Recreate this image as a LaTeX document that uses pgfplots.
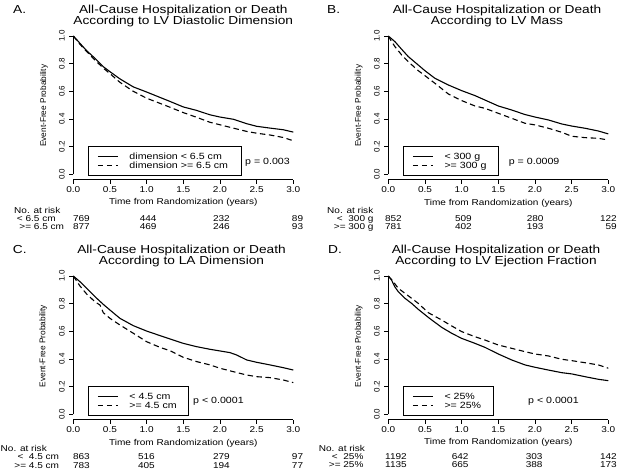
\documentclass[border=0pt]{standalone}
\usepackage{fontspec}
\setmainfont[FakeStretch=1.18]{Liberation Sans}
\newfontfamily\rotfont{Liberation Sans}
\usepackage{pgfplots}
\pgfplotsset{compat=1.18}
\newcommand\ftitle{\fontsize{11.6bp}{12bp}\selectfont}
\newcommand\fsmall{\fontsize{8.5bp}{10bp}\selectfont}
\newcommand\fleg{\fontsize{9bp}{10bp}\selectfont}
\newcommand\fylab{\rotfont\fontsize{8.3bp}{10bp}\selectfont}

\pgfplotsset{kmaxis/.style={
  scale only axis, width=220bp, height=149.3bp,
  xmin=0, xmax=3, ymin=-0.04, ymax=1.04,
  axis x line*=bottom, axis y line*=left,
  axis line style={draw=none},
  tick align=outside, major tick length=4bp,
  tick style={black, line width=0.6bp},
  xtick={0,0.5,1,1.5,2,2.5,3}, xticklabels={0.0,0.5,1.0,1.5,2.0,2.5,3.0},
  ytick={0,0.2,0.4,0.6,0.8,1}, yticklabels={0.0,0.2,0.4,0.6,0.8,1.0},
  xticklabel style={font=\fsmall, inner sep=0pt, anchor=north},
  xticklabel shift=3bp,
  yticklabel style={font=\rotfont\fontsize{8bp}{10bp}\selectfont, rotate=90, anchor=south, inner sep=0pt},
  yticklabel shift=4.5bp,
  clip=false,
  legend style={at={(0.0668,0.2264)}, anchor=north west, draw=black, line width=0.8bp,
    font=\fleg, inner xsep=9bp, inner ysep=7bp, row sep=2.5bp, column sep=11bp,
    nodes={inner sep=0pt, text height=6.5bp, text depth=0pt}},
  legend cell align=left,
  legend image code/.code={\draw[##1] (0bp,0bp) -- (20bp,0bp);},
},
solidkm/.style={black, line width=1.1bp},
dashkm/.style={black, line width=1.1bp, dash pattern=on 5.5bp off 3.5bp},
}

\begin{document}
\begin{tikzpicture}
% ---------------- Panel A ----------------
\begin{axis}[kmaxis, at={(73.3bp,296.2bp)}, anchor=south west]
\addplot[solidkm] coordinates {(0,1.0) (0.045,0.975) (0.091,0.947) (0.182,0.894) (0.295,0.839) (0.409,0.778) (0.5,0.742) (0.636,0.690) (0.818,0.632) (1.0,0.595) (1.182,0.556) (1.318,0.527) (1.5,0.487) (1.682,0.462) (1.864,0.430) (2.0,0.414) (2.182,0.398) (2.364,0.366) (2.5,0.347) (2.682,0.334) (2.864,0.322) (3.0,0.305)};
\addlegendentry{dimension < 6.5 cm\hspace*{4bp}}
\addplot[dashkm] coordinates {(0,1.0) (0.045,0.970) (0.091,0.940) (0.182,0.888) (0.295,0.826) (0.409,0.768) (0.5,0.728) (0.636,0.665) (0.818,0.600) (1.0,0.550) (1.182,0.513) (1.318,0.485) (1.5,0.446) (1.682,0.412) (1.864,0.376) (2.0,0.358) (2.182,0.334) (2.364,0.310) (2.5,0.297) (2.682,0.284) (2.864,0.266) (3.0,0.242)};
\addlegendentry{dimension >= 6.5 cm\hspace*{4bp}}
\draw[line width=0.6bp] (axis cs:0,-0.04) -- (axis cs:3,-0.04);
\draw[line width=0.6bp] (axis cs:0,0) -- (axis cs:0,1);
\end{axis}
% ---------------- Panel B ----------------
\begin{axis}[kmaxis, at={(388.3bp,296.2bp)}, anchor=south west]
\addplot[solidkm] coordinates {(0,1.0) (0.045,0.980) (0.091,0.959) (0.182,0.904) (0.273,0.851) (0.409,0.790) (0.5,0.749) (0.636,0.694) (0.818,0.646) (1.0,0.605) (1.182,0.569) (1.318,0.537) (1.5,0.494) (1.682,0.465) (1.864,0.432) (2.0,0.414) (2.182,0.393) (2.364,0.364) (2.5,0.349) (2.682,0.333) (2.864,0.313) (3.0,0.292)};
\addlegendentry{< 300 g\hspace*{3bp}}
\addplot[dashkm] coordinates {(0,1.0) (0.045,0.960) (0.091,0.923) (0.182,0.863) (0.273,0.814) (0.409,0.749) (0.5,0.713) (0.636,0.658) (0.818,0.581) (1.0,0.533) (1.182,0.494) (1.318,0.477) (1.5,0.441) (1.682,0.405) (1.864,0.369) (2.0,0.357) (2.182,0.333) (2.364,0.304) (2.5,0.275) (2.682,0.265) (2.864,0.260) (3.0,0.248)};
\addlegendentry{>= 300 g\hspace*{3bp}}
\draw[line width=0.6bp] (axis cs:0,-0.04) -- (axis cs:3,-0.04);
\draw[line width=0.6bp] (axis cs:0,0) -- (axis cs:0,1);
\end{axis}
% ---------------- Panel C ----------------
\begin{axis}[kmaxis, at={(73.3bp,56.2bp)}, anchor=south west]
\addplot[solidkm] coordinates {(0,1.0) (0.091,0.959) (0.182,0.911) (0.295,0.851) (0.409,0.795) (0.5,0.754) (0.636,0.694) (0.818,0.641) (1.0,0.602) (1.182,0.569) (1.318,0.545) (1.5,0.513) (1.682,0.489) (1.864,0.470) (2.0,0.458) (2.136,0.446) (2.227,0.429) (2.364,0.393) (2.5,0.376) (2.682,0.357) (2.864,0.337) (3.0,0.320)};
\addlegendentry{< 4.5 cm\hspace*{3bp}}
\addplot[dashkm] coordinates {(0,1.0) (0.091,0.928) (0.182,0.870) (0.295,0.814) (0.364,0.790) (0.409,0.735) (0.5,0.694) (0.636,0.646) (0.818,0.586) (1.0,0.525) (1.182,0.484) (1.318,0.460) (1.5,0.412) (1.682,0.381) (1.864,0.357) (2.0,0.333) (2.182,0.308) (2.364,0.284) (2.5,0.272) (2.682,0.265) (2.864,0.248) (3.0,0.229)};
\addlegendentry{>= 4.5 cm\hspace*{3bp}}
\draw[line width=0.6bp] (axis cs:0,-0.04) -- (axis cs:3,-0.04);
\draw[line width=0.6bp] (axis cs:0,0) -- (axis cs:0,1);
\end{axis}
% ---------------- Panel D ----------------
\begin{axis}[kmaxis, at={(388.3bp,56.2bp)}, anchor=south west]
\addplot[solidkm] coordinates {(0,1.0) (0.045,0.970) (0.091,0.920) (0.136,0.887) (0.227,0.839) (0.318,0.802) (0.409,0.759) (0.545,0.701) (0.727,0.629) (0.864,0.586) (1.0,0.549) (1.182,0.513) (1.318,0.484) (1.5,0.436) (1.682,0.393) (1.864,0.357) (2.0,0.340) (2.182,0.320) (2.364,0.301) (2.5,0.292) (2.682,0.272) (2.864,0.253) (3.0,0.243)};
\addlegendentry{< 25\%\hspace*{3bp}}
\addplot[dashkm] coordinates {(0,1.0) (0.045,0.975) (0.136,0.911) (0.227,0.875) (0.318,0.839) (0.409,0.802) (0.545,0.735) (0.727,0.682) (0.864,0.639) (1.0,0.598) (1.182,0.561) (1.318,0.537) (1.5,0.501) (1.682,0.477) (1.864,0.453) (2.0,0.436) (2.182,0.422) (2.364,0.398) (2.5,0.388) (2.682,0.373) (2.864,0.357) (3.0,0.333)};
\addlegendentry{>= 25\%\hspace*{3bp}}
\draw[line width=0.6bp] (axis cs:0,-0.04) -- (axis cs:3,-0.04);
\draw[line width=0.6bp] (axis cs:0,0) -- (axis cs:0,1);
\end{axis}

% ---------------- Texts (pixel coordinates, y downward) ----------------
\begin{scope}[x=1bp, y=-1bp, shift={(0,476bp)}]
% titles
\node[anchor=base west, font=\ftitle, inner sep=0pt] at (13,14) {A.};
\node[anchor=base, font=\ftitle, inner sep=0pt] at (183.3,13.8) {All-Cause Hospitalization or Death};
\node[anchor=base, font=\ftitle, inner sep=0pt] at (183.3,24.6) {According to LV Diastolic Dimension};
\node[anchor=base west, font=\ftitle, inner sep=0pt] at (327,14) {B.};
\node[anchor=base, font=\ftitle, inner sep=0pt] at (497,13.8) {All-Cause Hospitalization or Death};
\node[anchor=base, font=\ftitle, inner sep=0pt] at (497,24.6) {According to LV Mass};
\node[anchor=base west, font=\ftitle, inner sep=0pt] at (12.7,254) {C.};
\node[anchor=base, font=\ftitle, inner sep=0pt] at (181.5,253.8) {All-Cause Hospitalization or Death};
\node[anchor=base, font=\ftitle, inner sep=0pt] at (181.5,264.6) {According to LA Dimension};
\node[anchor=base west, font=\ftitle, inner sep=0pt] at (328,254) {D.};
\node[anchor=base, font=\ftitle, inner sep=0pt] at (496,253.8) {All-Cause Hospitalization or Death};
\node[anchor=base, font=\ftitle, inner sep=0pt] at (496,264.6) {According to LV Ejection Fraction};
% y labels
\node[rotate=90, font=\fylab, inner sep=0pt] at (44,105.8) {Event-Free Probability};
\node[rotate=90, font=\fylab, inner sep=0pt] at (358.7,105.8) {Event-Free Probability};
\node[rotate=90, font=\fylab, inner sep=0pt] at (43.3,346) {Event-Free Probability};
\node[rotate=90, font=\fylab, inner sep=0pt] at (358.7,346) {Event-Free Probability};
% x labels
\node[anchor=base, font=\fsmall, inner sep=0pt] at (183.3,204.5) {Time from Randomization (years)};
\node[anchor=base, font=\fsmall, inner sep=0pt] at (498.3,205.5) {Time from Randomization (years)};
\node[anchor=base, font=\fsmall, inner sep=0pt] at (183.3,445.5) {Time from Randomization (years)};
\node[anchor=base, font=\fsmall, inner sep=0pt] at (498.3,445) {Time from Randomization (years)};
% p-values
\node[anchor=base west, font=\fleg, inner sep=0pt] at (245,164.2) {p = 0.003};
\node[anchor=base west, font=\fleg, inner sep=0pt] at (508.7,164.2) {p = 0.0009};
\node[anchor=base west, font=\fleg, inner sep=0pt] at (193,403.2) {p < 0.0001};
\node[anchor=base west, font=\fleg, inner sep=0pt] at (528,403.7) {p < 0.0001};
% risk table A
\node[anchor=base west, font=\fsmall, inner sep=0pt] at (14,213.3) {No. at risk};
\node[anchor=base west, font=\fsmall, inner sep=0pt] at (16.7,221.7) {< 6.5 cm};
\node[anchor=base west, font=\fsmall, inner sep=0pt] at (19.3,230) {>= 6.5 cm};
\foreach \xx/\n in {90/769, 156.7/444, 230/232, 303.3/89}
  \node[anchor=base east, font=\fsmall, inner sep=0pt] at (\xx,221.7) {\n};
\foreach \xx/\n in {90/877, 156.7/469, 230/246, 303.3/93}
  \node[anchor=base east, font=\fsmall, inner sep=0pt] at (\xx,230) {\n};
% risk table B
\node[anchor=base west, font=\fsmall, inner sep=0pt] at (327,214) {No. at risk};
\node[anchor=base east, font=\fsmall, inner sep=0pt] at (373.7,221.7) {<\ \ 300 g};
\node[anchor=base east, font=\fsmall, inner sep=0pt] at (373.7,230) {>= 300 g};
\foreach \xx/\n in {402/852, 472/509, 543.7/280, 617/122}
  \node[anchor=base east, font=\fsmall, inner sep=0pt] at (\xx,221.7) {\n};
\foreach \xx/\n in {402/781, 472/402, 543.7/193, 617/59}
  \node[anchor=base east, font=\fsmall, inner sep=0pt] at (\xx,230) {\n};
% risk table C
\node[anchor=base west, font=\fsmall, inner sep=0pt] at (0.5,452) {No. at risk};
\node[anchor=base east, font=\fsmall, inner sep=0pt] at (59.3,460) {<\ \ 4.5 cm};
\node[anchor=base east, font=\fsmall, inner sep=0pt] at (59.3,468.3) {>= 4.5 cm};
\foreach \xx/\n in {90/863, 155/516, 230/279, 303.3/97}
  \node[anchor=base east, font=\fsmall, inner sep=0pt] at (\xx,460) {\n};
\foreach \xx/\n in {90/783, 155/405, 230/194, 303.3/77}
  \node[anchor=base east, font=\fsmall, inner sep=0pt] at (\xx,468.3) {\n};
% risk table D
\node[anchor=base west, font=\fsmall, inner sep=0pt] at (318.7,451.7) {No. at risk};
\node[anchor=base east, font=\fsmall, inner sep=0pt] at (363.7,459.3) {<\ \ 25\%};
\node[anchor=base east, font=\fsmall, inner sep=0pt] at (363.7,467.3) {>= 25\%};
\foreach \xx/\n in {407/1192, 468.7/642, 542.7/303, 617/142}
  \node[anchor=base east, font=\fsmall, inner sep=0pt] at (\xx,459.3) {\n};
\foreach \xx/\n in {407/1135, 468.7/665, 542.7/388, 617/173}
  \node[anchor=base east, font=\fsmall, inner sep=0pt] at (\xx,467.3) {\n};
\end{scope}
\pgfresetboundingbox
\path[use as bounding box] (0,0) rectangle (624bp,476bp);
\end{tikzpicture}
\end{document}
